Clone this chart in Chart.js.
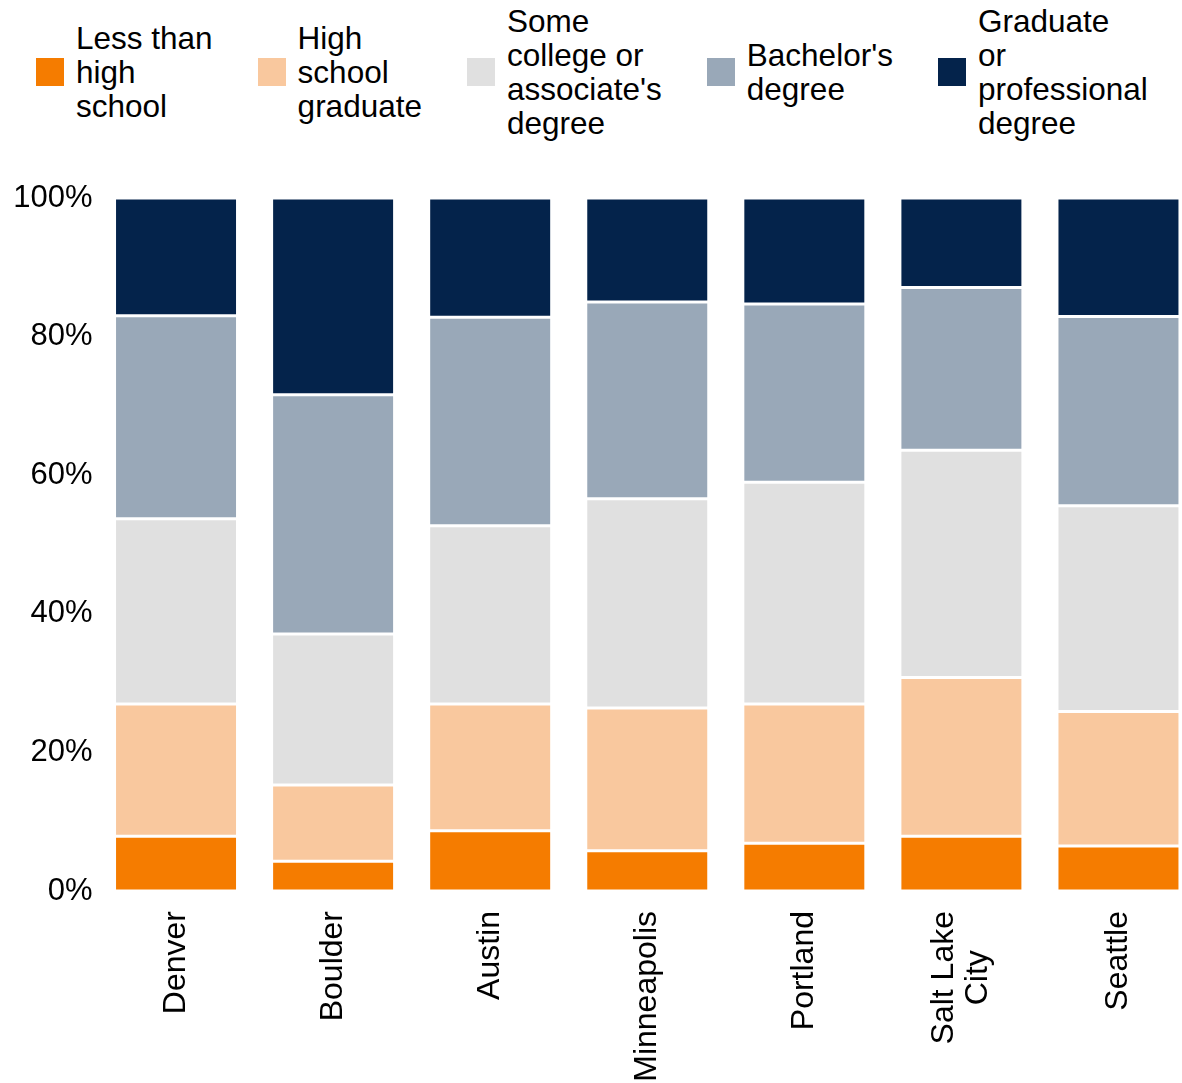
<!DOCTYPE html>
<html>
<head>
<meta charset="utf-8">
<script src="https://cdn.jsdelivr.net/npm/chart.js@4"></script>
<style>
  html, body { margin: 0; padding: 0; background: #fff; overflow: hidden; }
  body { width: 1182px; height: 1083px; position: relative; font-family: "Liberation Sans", Arial, sans-serif; }
  #legend {
    position: absolute; left: 36px; top: 0; height: 144px;
    display: flex; align-items: center; gap: 45px;
    font-size: 31.5px; line-height: 34px; color: #000;
  }
  .item { display: flex; align-items: center; }
  .swatch { width: 28px; height: 28px; margin-right: 12px; flex: none; }
  #wrap { position: absolute; left: 0; top: 0; width: 1197px; height: 1083px; }
</style>
</head>
<body>
<div id="legend"></div>
<div id="wrap"><canvas id="chart"></canvas></div>
<script>
const cities = ["Denver", "Boulder", "Austin", "Minneapolis", "Portland", ["Salt Lake", "City"], "Seattle"];

const lessThanHS = [7.9, 4.3, 8.7, 5.8, 6.9, 7.9, 6.5];
const hsGrad = [19.1, 11.0, 18.3, 20.6, 20.1, 22.9, 19.4];
const someCollege = [26.7, 21.8, 25.7, 30.2, 32.0, 32.8, 29.7];
const bachelors = [29.3, 34.5, 30.1, 28.4, 25.7, 23.5, 27.3];
const graduate = [17.0, 28.4, 17.2, 15.0, 15.3, 12.9, 17.1];

const seriesNames = [
  ["Less than", "high", "school"],
  ["High", "school", "graduate"],
  ["Some", "college or", "associate's", "degree"],
  ["Bachelor's", "degree"],
  ["Graduate", "or", "professional", "degree"]
];
const seriesColors = ["#F57C00", "#F9C89E", "#E0E0E0", "#99A8B8", "#04234B"];
const yTicks = [0, 20, 40, 60, 80, 100];

const seriesData = [lessThanHS, hsGrad, someCollege, bachelors, graduate];

// legend in html so the multi-line labels wrap like the original
const legend = document.getElementById("legend");
seriesNames.forEach((lines, i) => {
  const item = document.createElement("div");
  item.className = "item";
  const sw = document.createElement("div");
  sw.className = "swatch";
  sw.style.background = seriesColors[i];
  const txt = document.createElement("div");
  txt.innerHTML = lines.join("<br>");
  item.appendChild(sw);
  item.appendChild(txt);
  legend.appendChild(item);
});

const FAMILY = "'Liberation Sans', Arial, sans-serif";

// x labels drawn by hand: rotated, each line centred on the longest one
const xLabels = {
  id: "xLabels",
  afterDraw(chart) {
    const { ctx, scales } = chart;
    const x = scales.x;
    const top = chart.chartArea.bottom + 20;
    const lh = 34;
    ctx.save();
    ctx.font = "32px " + FAMILY;
    ctx.fillStyle = "#000";
    ctx.textBaseline = "middle";
    cities.forEach((lab, i) => {
      const lines = Array.isArray(lab) ? lab : [lab];
      const widths = lines.map((l) => ctx.measureText(l).width);
      const maxW = Math.max(...widths);
      const cx = x.getPixelForTick(i);
      lines.forEach((l, j) => {
        const off = (j - (lines.length - 1) / 2) * lh;
        ctx.save();
        ctx.translate(cx + off, top + maxW / 2);
        ctx.rotate(-Math.PI / 2);
        ctx.textAlign = "center";
        ctx.fillText(l, 0, 0);
        ctx.restore();
      });
    });
    ctx.restore();
  },
};

const ctx = document.getElementById("chart").getContext("2d");
new Chart(ctx, {
  type: "bar",
  data: {
    labels: cities,
    datasets: seriesData.map((d, i) => ({
      label: seriesNames[i].join(" "),
      data: d,
      backgroundColor: seriesColors[i],
      borderColor: "#ffffff",
      borderWidth: 1.5,
      borderSkipped: false,
      barPercentage: 0.783,
      categoryPercentage: 1.0,
    })),
  },
  options: {
    responsive: true,
    maintainAspectRatio: false,
    animation: false,
    layout: { padding: { top: 198, left: 0, right: 0, bottom: 0 } },
    plugins: {
      legend: { display: false },
      tooltip: { enabled: false },
    },
    scales: {
      x: {
        stacked: true,
        grid: { display: false, drawTicks: false },
        border: { display: false },
        ticks: { display: false },
        afterFit: (scale) => { scale.height = 192; },
      },
      y: {
        stacked: true,
        min: 0,
        max: 100,
        grid: { display: false, drawTicks: false },
        border: { display: false },
        afterBuildTicks: (scale) => { scale.ticks = yTicks.map((v) => ({ value: v })); },
        ticks: {
          color: "#000",
          font: { family: FAMILY, size: 31 },
          padding: 5,
          callback: (v) => v + "%",
        },
        afterFit: (scale) => { scale.width = 97.5; },
      },
    },
  },
  plugins: [xLabels],
});
</script>
</body>
</html>
